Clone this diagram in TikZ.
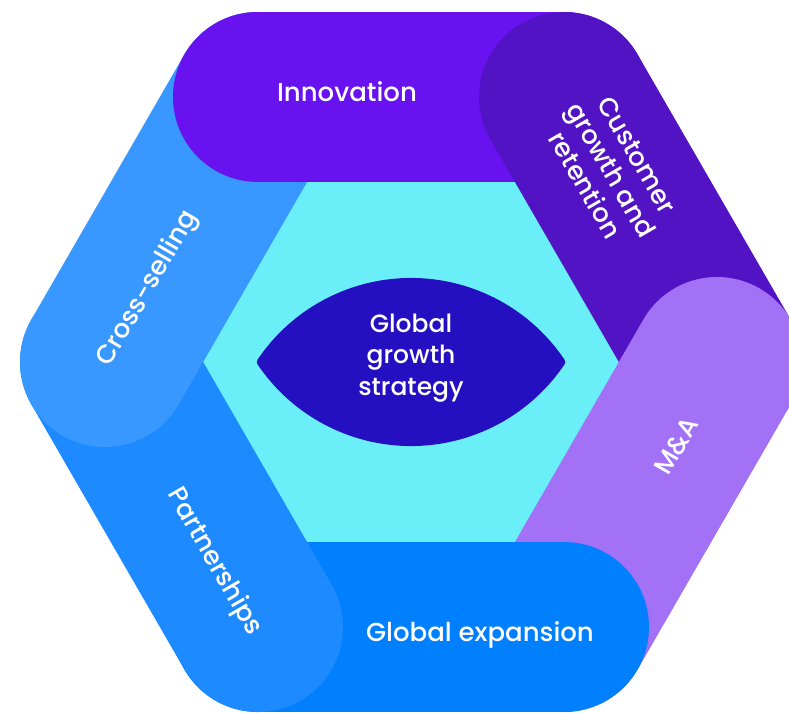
\documentclass[tikz,border=0pt]{standalone}
\usepackage{fontspec}
\setmainfont{Poppins}[UprightFont=* Medium]
\usepackage{tikz}

\definecolor{innovc}{RGB}{104,18,240}
\definecolor{custc}{RGB}{82,19,196}
\definecolor{mac}{RGB}{163,113,246}
\definecolor{globc}{RGB}{0,128,255}
\definecolor{partc}{RGB}{30,138,255}
\definecolor{crossc}{RGB}{56,152,255}
\definecolor{corec}{RGB}{106,239,248}
\definecolor{lensc}{RGB}{37,16,193}

\tikzset{
  band/.style={line width=170pt, line cap=round},
  bandlabel/.style={text=white, font=\fontsize{26}{30}\selectfont, align=center, inner sep=0pt},
}

\begin{document}
\begin{tikzpicture}[x=1pt,y=1pt]
  \clip (-411,-350) rectangle (378,362);
  % hexagon corners
  \foreach \k in {0,...,5}
    \coordinate (v\k) at (60*\k:306);
  % inner hexagon
  \fill[corec] (v0) -- (v1) -- (v2) -- (v3) -- (v4) -- (v5) -- cycle;
  % bands, each one over the end of the one before
  \draw[band,innovc] (v2) -- (v1);
  \draw[band,custc] (v1) -- (v0);
  \draw[band,mac] (v0) -- (v5);
  \draw[band,globc] (v5) -- (v4);
  \draw[band,partc] (v4) -- (v3);
  \draw[band,crossc] (v3) -- (v2);
  % innovation again over the top of cross-selling
  \begin{scope}
    \clip (v3) rectangle (0,400);
    \draw[band,innovc] (v2) -- (v1);
  \end{scope}
  % lens in the middle
  \draw[lensc,fill=lensc,line width=8pt,line join=round]
    (-150.2,0) arc[start angle=146.1,end angle=33.9,radius=181]
    arc[start angle=-33.9,end angle=-146.1,radius=181] -- cycle;
  \node[bandlabel,font=\fontsize{25}{31.5}\selectfont] (core) at (0,4) {Global\\growth\\strategy};
  % band labels
  \node[bandlabel] (innov) at (-64,270) {Innovation};
  \node[bandlabel,rotate=-60] (cust) at (200,192) {Customer\\growth and\\retention};
  \node[bandlabel,rotate=60] (ma) at (265,-84) {M\&A};
  \node[bandlabel] (glob) at (69,-273) {Global expansion};
  \node[bandlabel,rotate=-60] (part) at (-197,-200) {Partnerships};
  \node[bandlabel,rotate=60] (cross) at (-263,73) {Cross-selling};
\end{tikzpicture}
\end{document}
